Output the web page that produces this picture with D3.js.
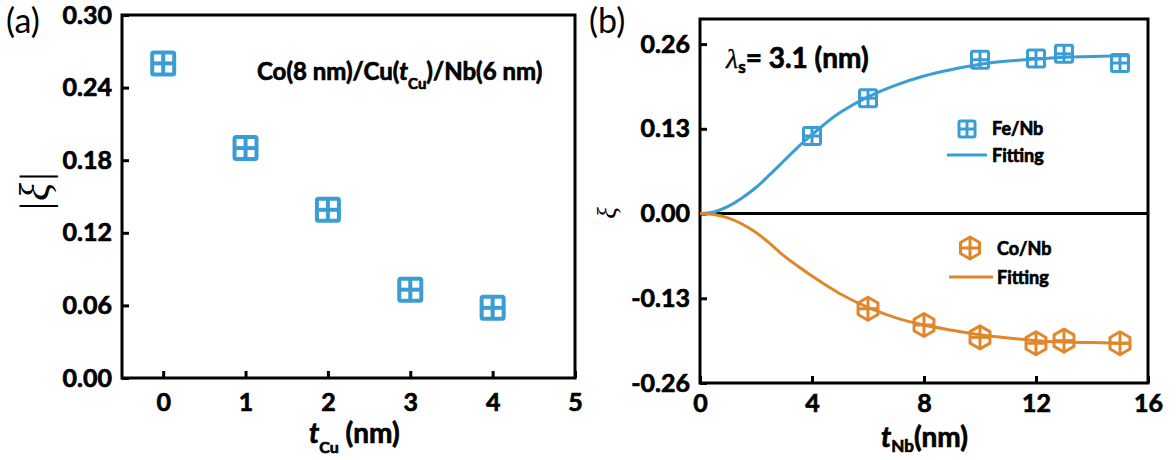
<!DOCTYPE html>
<html><head><meta charset="utf-8">
<script src="https://cdn.jsdelivr.net/npm/d3@7"></script>
<style>
body{margin:0;background:#fff;}
svg{display:block;}
text{font-family:Lato,"Open Sans",sans-serif;}
.bold{font-weight:bold;stroke:#000;stroke-width:0.7px;paint-order:stroke;}
</style></head>
<body>
<svg id="c" width="1176" height="460"></svg>
<script>
// ---- data ----
const tCu = [0, 1, 2, 3, 4];
const xiAbs = [0.26, 0.19, 0.139, 0.073, 0.058];
const aXTicks = [0, 1, 2, 3, 4, 5];
const aYTicks = [0.00, 0.06, 0.12, 0.18, 0.24, 0.30];

const tNbFe = [4, 6, 10, 12, 13, 15];
const xiFe = [0.119, 0.177, 0.236, 0.238, 0.245, 0.231];
const tNbCo = [6, 8, 10, 12, 13, 15];
const xiCo = [-0.146, -0.171, -0.19, -0.199, -0.195, -0.199];
const fitT = [0, 0.5, 1, 1.5, 2, 2.5, 3, 3.5, 4, 4.5, 5, 6, 7, 8, 9, 10, 11, 12, 13, 14, 15, 15.3];
const fitFe = [0, 0.0025, 0.011, 0.024, 0.040, 0.060, 0.081, 0.102, 0.121, 0.139, 0.155, 0.179, 0.197, 0.211, 0.221, 0.229, 0.234, 0.237, 0.240, 0.241, 0.242, 0.242];
const fitCo = [0, -0.0015, -0.0066, -0.016, -0.029, -0.046, -0.065, -0.081, -0.096, -0.110, -0.123, -0.144, -0.160, -0.171, -0.179, -0.186, -0.191, -0.195, -0.197, -0.198, -0.199, -0.199];
const bXTicks = [0, 4, 8, 12, 16];
const bYTicks = [-0.26, -0.13, 0.00, 0.13, 0.26];

const BLUE = "#3a9dd4", ORANGE = "#e0872c";
const svg = d3.select("#c");

function squareMarker(g, cx, cy, s, sw, color) {
  const m = g.append("g").attr("transform", `translate(${cx},${cy})`);
  m.append("rect").attr("x", -s/2).attr("y", -s/2).attr("width", s).attr("height", s)
    .attr("rx", 1.5).attr("fill", "none").attr("stroke", color).attr("stroke-width", sw);
  m.append("line").attr("x1", -s/2).attr("x2", s/2).attr("y1", 0).attr("y2", 0).attr("stroke", color).attr("stroke-width", sw);
  m.append("line").attr("y1", -s/2).attr("y2", s/2).attr("x1", 0).attr("x2", 0).attr("stroke", color).attr("stroke-width", sw);
}
function hexMarker(g, cx, cy, r, sw, color) {
  const m = g.append("g").attr("transform", `translate(${cx},${cy})`);
  const pts = d3.range(6).map(i => { const a = Math.PI/2 + i*Math.PI/3; return [r*Math.cos(a), -r*Math.sin(a)]; });
  m.append("polygon").attr("points", pts.map(p => p.join(",")).join(" "))
    .attr("fill", "none").attr("stroke", color).attr("stroke-width", sw).attr("stroke-linejoin", "round");
  const w = r*Math.cos(Math.PI/6);
  m.append("line").attr("x1", -w).attr("x2", w).attr("y1", 0).attr("y2", 0).attr("stroke", color).attr("stroke-width", sw);
  m.append("line").attr("y1", -r).attr("y2", r).attr("x1", 0).attr("x2", 0).attr("stroke", color).attr("stroke-width", sw);
}
function styleAxis(g) {
  g.select(".domain").remove();
  g.selectAll(".tick line").attr("stroke", "#000").attr("stroke-width", 3);
  g.selectAll(".tick text").attr("fill", "#000").attr("class", "bold").style("font-family", "Lato").style("font-size", "25px");
}

// ---------- Panel (a) ----------
{
  const L = 122, R = 575, T = 15, B = 378;
  const x = d3.scaleLinear().domain([-0.5, 5]).range([L, R]);
  const y = d3.scaleLinear().domain([0, 0.30]).range([B, T]);
  const g = svg.append("g");
  g.append("g").attr("transform", `translate(0,${B})`)
    .call(d3.axisBottom(x).tickValues(aXTicks).tickSizeInner(-7).tickSizeOuter(0).tickPadding(15).tickFormat(d3.format("d")))
    .call(styleAxis);
  g.append("g").attr("transform", `translate(${L},0)`)
    .call(d3.axisLeft(y).tickValues(aYTicks).tickSizeInner(-7).tickSizeOuter(0).tickPadding(10).tickFormat(d => d.toFixed(2)))
    .call(styleAxis);
  g.append("rect").attr("x", L).attr("y", T).attr("width", R - L).attr("height", B - T)
    .attr("fill", "none").attr("stroke", "#000").attr("stroke-width", 3);
  tCu.forEach((t, i) => squareMarker(g, x(t), y(xiAbs[i]), 22, 4, BLUE));

  svg.append("text").attr("x", 6).attr("y", 33).style("font-size", "34px").text("(a)");
  // inner label
  const lab = svg.append("text").attr("class", "bold").attr("x", 257).attr("y", 80).style("font-size", "24px");
  lab.append("tspan").text("Co(8 nm)/Cu(");
  lab.append("tspan").style("font-style", "italic").text("t");
  lab.append("tspan").attr("dy", 9).style("font-size", "15px").text("Cu");
  lab.append("tspan").attr("dy", -9).text(")/Nb(6 nm)");
  // x title
  const xt = svg.append("text").attr("class", "bold").attr("x", 309).attr("y", 443).style("font-size", "28px");
  xt.append("tspan").style("font-style", "italic").text("t");
  xt.append("tspan").attr("dy", 10).style("font-size", "16px").text("Cu");
  xt.append("tspan").attr("dy", -10).text(" (nm)");
  // y title |ξ|
  svg.append("text").attr("transform", "translate(49,192) rotate(-90)").attr("text-anchor", "middle")
    .style("font-family", "'Liberation Serif',serif").style("font-size", "42px").style("font-style", "italic")
    .text("|ξ|");
}

// ---------- Panel (b) ----------
{
  const L = 700, R = 1148, T = 19, B = 383;
  const x = d3.scaleLinear().domain([0, 16]).range([L, R]);
  const y = d3.scaleLinear().domain([-0.26, 0.2985]).range([B, T]);
  const g = svg.append("g");
  g.append("g").attr("transform", `translate(0,${B})`)
    .call(d3.axisBottom(x).tickValues(bXTicks).tickSizeInner(-7).tickSizeOuter(0).tickPadding(11).tickFormat(d3.format("d")))
    .call(styleAxis);
  g.append("g").attr("transform", `translate(${L},0)`)
    .call(d3.axisLeft(y).tickValues(bYTicks).tickSizeInner(-7).tickSizeOuter(0).tickPadding(10).tickFormat(d => d.toFixed(2)))
    .call(styleAxis);
  g.append("line").attr("x1", L).attr("x2", R).attr("y1", y(0)).attr("y2", y(0)).attr("stroke", "#000").attr("stroke-width", 3);
  g.append("rect").attr("x", L).attr("y", T).attr("width", R - L).attr("height", B - T)
    .attr("fill", "none").attr("stroke", "#000").attr("stroke-width", 3);

  const line = d3.line().curve(d3.curveCatmullRom.alpha(0.5));
  g.append("path").attr("d", line(fitT.map((t, i) => [x(t), y(fitFe[i])])))
    .attr("fill", "none").attr("stroke", BLUE).attr("stroke-width", 3);
  g.append("path").attr("d", line(fitT.map((t, i) => [x(t), y(fitCo[i])])))
    .attr("fill", "none").attr("stroke", ORANGE).attr("stroke-width", 3);
  tNbFe.forEach((t, i) => squareMarker(g, x(t), y(xiFe[i]), 17, 3, BLUE));
  tNbCo.forEach((t, i) => hexMarker(g, x(t), y(xiCo[i]), 11.5, 3, ORANGE));

  // legends
  squareMarker(g, 967, 129, 16, 3, BLUE);
  g.append("text").attr("class", "bold").attr("x", 992).attr("y", 135).style("font-size", "18px").text("Fe/Nb");
  g.append("line").attr("x1", 947).attr("x2", 987).attr("y1", 155).attr("y2", 155).attr("stroke", BLUE).attr("stroke-width", 3);
  g.append("text").attr("class", "bold").attr("x", 992).attr("y", 162).style("font-size", "18px").text("Fitting");

  hexMarker(g, 970, 248, 11, 3, ORANGE);
  g.append("text").attr("class", "bold").attr("x", 997).attr("y", 255).style("font-size", "18px").text("Co/Nb");
  g.append("line").attr("x1", 949).attr("x2", 993).attr("y1", 277).attr("y2", 277).attr("stroke", ORANGE).attr("stroke-width", 3);
  g.append("text").attr("class", "bold").attr("x", 997).attr("y", 284).style("font-size", "18px").text("Fitting");

  svg.append("text").attr("x", 589).attr("y", 33).style("font-size", "34px").text("(b)");
  const lam = svg.append("text").attr("class", "bold").attr("x", 726).attr("y", 68).style("font-size", "28px");
  lam.append("tspan").style("font-family", "'Liberation Serif',serif").style("font-style", "italic").style("font-weight", "normal").style("stroke-width", "0.3px").text("λ");
  lam.append("tspan").attr("dy", 5).style("font-size", "17px").text("s");
  lam.append("tspan").attr("dy", -5).text("= 3.1 (nm)");
  const xt = svg.append("text").attr("class", "bold").attr("x", 881).attr("y", 447).style("font-size", "28px");
  xt.append("tspan").style("font-style", "italic").text("t");
  xt.append("tspan").attr("dy", 5).style("font-size", "17px").text("Nb");
  xt.append("tspan").attr("dy", -5).text("(nm)");
  svg.append("text").attr("transform", "translate(616,213) rotate(-90)").attr("text-anchor", "middle")
    .style("font-family", "'Liberation Serif',serif").style("font-size", "27px").style("font-style", "italic")
    .text("ξ");
}
</script>
</body></html>
